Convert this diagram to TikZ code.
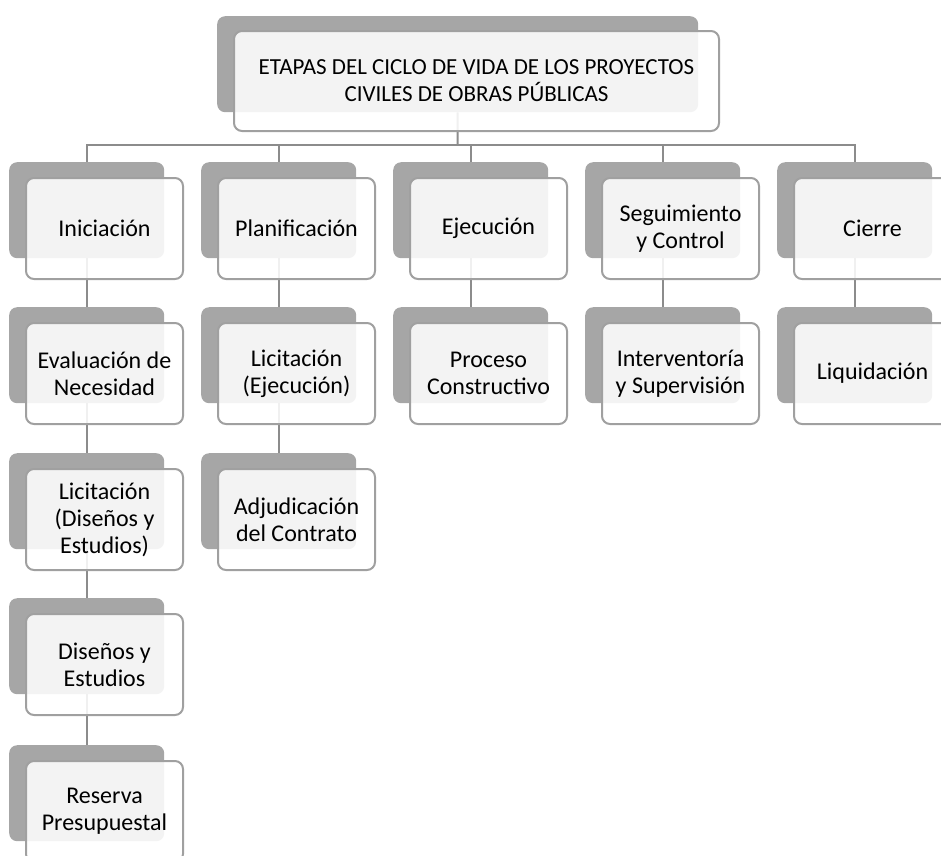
\documentclass[tikz,border=0pt]{standalone}
\usepackage{fontspec}
\setmainfont{Carlito}
\definecolor{darkbox}{RGB}{166,166,166}
\definecolor{frontline}{RGB}{160,160,160}
\definecolor{connline}{RGB}{140,140,140}
\tikzset{
  backbox/.style={draw=none, fill=darkbox, rounded corners=8pt, minimum width=155pt, minimum height=96pt, anchor=north west, inner sep=0pt},
  frontbox/.style={draw=frontline, line width=2pt, fill=white, fill opacity=0.87, text opacity=1, rounded corners=8pt, minimum width=157pt, minimum height=101pt, anchor=north west, align=center, inner sep=0pt, font=\fontsize{24}{27}\selectfont},
  conn/.style={draw=connline, line width=2pt}
}
\begin{document}
\begin{tikzpicture}[x=1pt,y=-1pt]
\useasboundingbox (0,0) rectangle (941,855);
\clip (0,0) rectangle (941,855);
% top dark box
\node[backbox, minimum width=481pt, minimum height=96pt] (dtop) at (217,16) {};
% column dark boxes
\foreach \n/\x/\y in {a1/9/162, a2/9/307, a3/9/453, a4/9/598, a5/9/745,
                      b1/201/162, b2/201/307, b3/201/453,
                      c1/393/162, c2/393/307,
                      e1/585/162, e2/585/307,
                      g1/777/162, g2/777/307}{
  \node[backbox] (d\n) at (\x,\y) {};
}
% connectors
\coordinate (hub) at (457.5,145);
\draw[conn] (dtop.south) -- (hub);
\foreach \c in {a1,b1,c1,e1,g1}{
  \draw[conn] (hub) -| (d\c.north);
}
\draw[conn] (da1.south) -- (da2.north);
\draw[conn] (da2.south) -- (da3.north);
\draw[conn] (da3.south) -- (da4.north);
\draw[conn] (da4.south) -- (da5.north);
\draw[conn] (db1.south) -- (db2.north);
\draw[conn] (db2.south) -- (db3.north);
\draw[conn] (dc1.south) -- (dc2.north);
\draw[conn] (de1.south) -- (de2.north);
\draw[conn] (dg1.south) -- (dg2.north);
% front boxes
\node[frontbox, minimum width=485pt, minimum height=100pt, font=\fontsize{23}{27}\selectfont] (ftop) at (233,30) {ETAPAS DEL CICLO DE VIDA DE LOS PROYECTOS\\CIVILES DE OBRAS PÚBLICAS};
\node[frontbox] (fa1) at (25,177) {Iniciación};
\node[frontbox] (fa2) at (25,322) {Evaluación de\\Necesidad};
\node[frontbox] (fa3) at (25,468) {Licitación\\(Diseños y\\Estudios)};
\node[frontbox] (fa4) at (25,613) {Diseños y\\Estudios};
\node[frontbox] (fa5) at (25,760) {Reserva\\Presupuestal};
\node[frontbox] (fb1) at (217,177) {Planificación};
\node[frontbox] (fb2) at (217,322) {Licitación\\(Ejecución)};
\node[frontbox] (fb3) at (217,468) {Adjudicación\\del Contrato};
\node[frontbox] (fc1) at (409,177) {Ejecución};
\node[frontbox] (fc2) at (409,322) {Proceso\\Constructivo};
\node[frontbox] (fe1) at (601,177) {Seguimiento\\y Control};
\node[frontbox] (fe2) at (601,322) {Interventoría\\y Supervisión};
\node[frontbox] (fg1) at (793,177) {Cierre};
\node[frontbox] (fg2) at (793,322) {Liquidación};
\end{tikzpicture}
\end{document}
